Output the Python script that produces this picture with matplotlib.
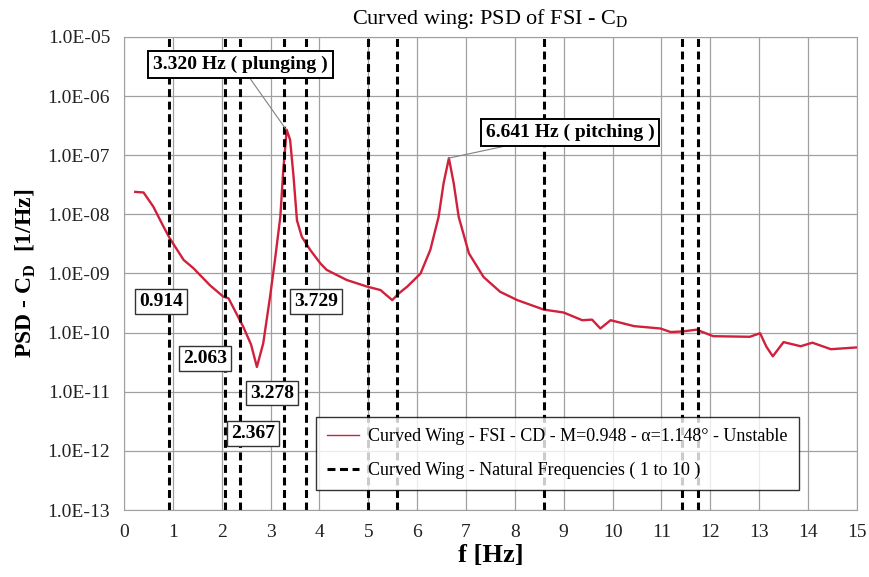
import matplotlib
matplotlib.use("Agg")
import matplotlib.pyplot as plt
import numpy as np

# PSD of FSI - CD curve
freq = [0.23, 0.40, 0.60, 0.81, 0.94, 1.22, 1.42, 1.76, 2.03, 2.14, 2.44, 2.60, 2.72,
        2.85, 2.99, 3.09, 3.20, 3.26, 3.33, 3.40, 3.47, 3.54, 3.64, 3.81, 4.02,
        4.15, 4.56, 4.97, 5.25, 5.49, 5.62, 5.80, 6.07, 6.27, 6.44, 6.54, 6.65,
        6.75, 6.85, 7.06, 7.36, 7.70, 8.05, 8.59, 9.00, 9.38, 9.58, 9.75, 9.96,
        10.44, 10.98, 11.19, 11.43, 11.72, 12.06, 12.81, 13.02, 13.15, 13.28,
        13.50, 13.85, 14.09, 14.47, 15.0]
log_psd = [-7.62, -7.63, -7.87, -8.21, -8.41, -8.77, -8.91, -9.20, -9.39, -9.42,
           -9.90, -10.20, -10.58, -10.18, -9.39, -8.77, -8.04, -7.25, -6.57, -6.74,
           -7.36, -8.10, -8.38, -8.60, -8.83, -8.94, -9.11, -9.22, -9.28, -9.45,
           -9.34, -9.22, -9.00, -8.60, -8.04, -7.48, -7.05, -7.48, -8.04, -8.66,
           -9.06, -9.31, -9.45, -9.61, -9.66, -9.79, -9.78, -9.93, -9.79, -9.89,
           -9.93, -9.99, -9.98, -9.95, -10.06, -10.07, -10.01, -10.24, -10.40,
           -10.16, -10.23, -10.17, -10.28, -10.25]
psd = 10.0 ** np.array(log_psd)

nat_freq = [0.914, 2.063, 2.367, 3.278, 3.729, 4.99, 5.58, 8.59, 11.43, 11.74]
nat_labels = ["0.914", "2.063", "2.367", "3.278", "3.729"]
nat_label_pos = [(0.76, 3.4e-10), (1.66, 3.7e-11), (2.64, 2.0e-12), (3.03, 9.5e-12), (3.93, 3.4e-10)]

peak_freq = [3.320, 6.641]
peak_text = ["3.320 Hz ( plunging )", "6.641 Hz ( pitching )"]
peak_val = [2.7e-7, 8.9e-8]
peak_text_pos = [(2.38, 3.4e-6), (9.13, 2.45e-7)]

plt.rcParams["font.family"] = ["Liberation Serif", "DejaVu Serif"]
plt.rcParams["mathtext.fontset"] = "custom"
plt.rcParams["mathtext.rm"] = "Liberation Serif"
plt.rcParams["mathtext.bf"] = "Liberation Serif:bold"

fig = plt.figure(figsize=(8.69, 5.77), dpi=100)
ax = fig.add_axes([0.1427, 0.116, 0.8433, 0.820])

ax.plot(freq, psd, color="#d0203c", lw=1.7,
        label="Curved Wing - FSI - CD - M=0.948 - \u03b1=1.148\u00b0 - Unstable")
for i, f in enumerate(nat_freq):
    ax.axvline(f, color="black", ls=(0, (2.6, 1.5)), lw=2.2,
               label="Curved Wing - Natural Frequencies ( 1 to 10 )" if i == 0 else None)

ax.set_yscale("log")
ax.set_xlim(0, 15)
ax.set_ylim(1e-13, 1e-5)
ax.set_xticks(range(0, 16))
ax.set_yticks([10.0 ** k for k in range(-13, -4)])
ax.set_yticklabels(["1.0E-%02d" % (-k) for k in range(-13, -4)])
ax.minorticks_off()
ax.tick_params(labelsize=14, length=0, pad=10, labelcolor="#222222")
ax.grid(True, color="#a0a0a0", lw=0.9)
for s in ax.spines.values():
    s.set_color("#a0a0a0")

box = dict(boxstyle="square,pad=0.2", fc="white", ec="#333333", lw=1.0)
for txt, (x, y) in zip(nat_labels, nat_label_pos):
    ax.text(x, y, txt, fontsize=14, fontweight="bold", ha="center", va="center", bbox=box)

for txt, f, v, (x, y) in zip(peak_text, peak_freq, peak_val, peak_text_pos):
    ax.annotate(txt, xy=(f, v), xytext=(x, y), fontsize=14, fontweight="bold",
                ha="center", va="center",
                bbox=dict(boxstyle="square,pad=0.25", fc="white", ec="black", lw=1.4),
                arrowprops=dict(arrowstyle="-", color="#808080", lw=0.8, shrinkA=0, shrinkB=0))

ax.set_title("Curved wing: PSD of FSI - C$_\\mathrm{D}$", fontsize=16, pad=9)
ax.set_xlabel("f [Hz]", fontsize=19, fontweight="bold", labelpad=2)
ax.set_ylabel("PSD - C$_\\mathbf{D}$  [1/Hz]", fontsize=17, fontweight="bold", labelpad=7)

leg = ax.legend(loc="lower left", bbox_to_anchor=(0.262, 0.042),
                fontsize=13, frameon=True, fancybox=False, edgecolor="black",
                borderpad=0.6, borderaxespad=0, handlelength=1.8, handletextpad=0.5,
                labelspacing=0.95)
leg.get_frame().set_linewidth(1.0)
leg.get_lines()[0].set_linewidth(1.0)

fig.savefig("out.png", dpi=100)
plt.close()
